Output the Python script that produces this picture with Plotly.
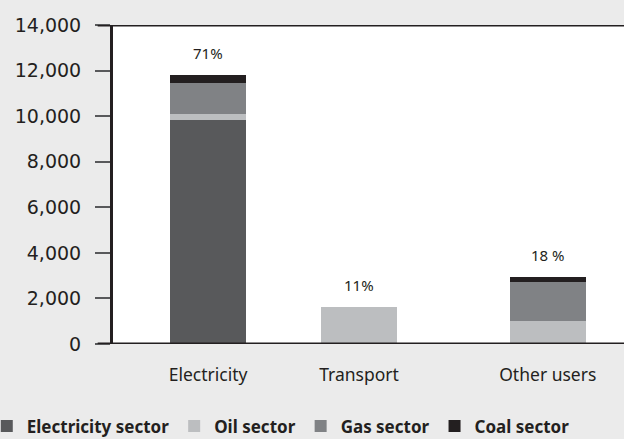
import plotly.graph_objects as go

categories = ["Electricity", "Transport", "Other users"]
x_positions = [0, 1, 2.25]
electricity_sector = [9825, 0, 0]
oil_sector = [265, 1620, 1010]
gas_sector = [1360, 0, 1710]
coal_sector = [340, 0, 220]
share_labels = ["71%", "11%", "18 %"]

series = [
    ("Electricity sector", electricity_sector, "#58595b"),
    ("Oil sector", oil_sector, "#bcbec0"),
    ("Gas sector", gas_sector, "#808285"),
    ("Coal sector", coal_sector, "#231f20"),
]

FONT = "Noto Sans"
INK = "#231f20"

fig = go.Figure()
for name, vals, color in series:
    fig.add_trace(go.Bar(
        x=x_positions, y=vals, name=name, width=0.5,
        marker=dict(color=color, line=dict(width=0)),
    ))

totals = [sum(v) for v in zip(electricity_sector, oil_sector, gas_sector, coal_sector)]
for xp, tot, lab in zip(x_positions, totals, share_labels):
    fig.add_annotation(x=xp, y=tot, text=lab, showarrow=False, yshift=22,
                       font=dict(family=FONT, size=15, color=INK))

for yv in [0, 14000]:
    fig.add_shape(type="line", xref="paper", yref="y", x0=-0.03, x1=1, y0=yv, y1=yv,
                  line=dict(color=INK, width=3))

fig.update_layout(
    barmode="stack",
    width=624, height=439,
    margin=dict(l=113, r=0, t=25, b=95, autoexpand=False),
    paper_bgcolor="#ebebeb",
    plot_bgcolor="#ffffff",
    font=dict(family=FONT, color=INK),
    showlegend=True,
    legend=dict(orientation="h", x=-0.247, xanchor="left", y=-0.315, yanchor="bottom",
                font=dict(family=FONT, size=17, color=INK, weight="bold"),
                bgcolor="rgba(0,0,0,0)", traceorder="normal"),
    bargap=0,
)
fig.update_xaxes(
    range=[-0.63, 2.755], tickvals=x_positions, ticktext=categories,
    showgrid=False, zeroline=False, showline=False, ticks="",
    ticklabelstandoff=18,
    tickfont=dict(family=FONT, size=17.5, color=INK),
)
fig.update_yaxes(
    range=[0, 14000], tickvals=list(range(0, 14001, 2000)),
    tickformat=",d", showgrid=False, zeroline=False,
    showline=True, linecolor=INK, linewidth=3,
    ticks="outside", ticklen=15, tickwidth=2, tickcolor="#58595b",
    ticklabelstandoff=10,
    tickfont=dict(family="DejaVu Sans", size=19, color=INK),
)

fig.write_html("out.html")
